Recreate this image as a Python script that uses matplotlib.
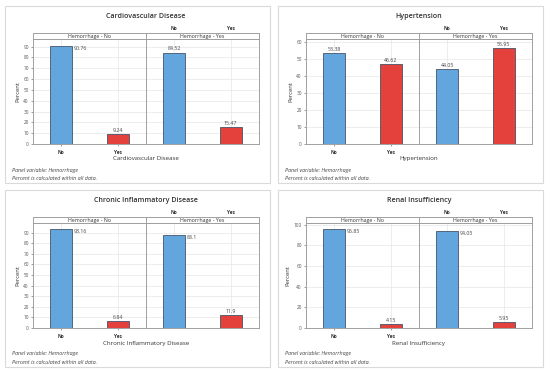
import matplotlib
matplotlib.use('Agg')
import matplotlib.pyplot as plt
from matplotlib.patches import Rectangle

plt.rcParams['font.family'] = ['Open Sans', 'DejaVu Sans']

titles = ['Cardiovascular Disease', 'Hypertension',
          'Chronic Inflammatory Disease', 'Renal Insufficiency']
categories = ['No', 'Yes']
facets = ['Hemorrhage - No', 'Hemorrhage - Yes']
# percent within each panel, for Hemorrhage = No and Hemorrhage = Yes
pct_hem_no = [[90.76, 9.24], [53.38, 46.62], [93.16, 6.84], [95.85, 4.15]]
pct_hem_yes = [[84.52, 15.47], [44.05, 55.95], [88.1, 11.9], [94.05, 5.95]]
y_top = [97, 61.5, 99, 101.5]
y_step = [10, 10, 10, 20]
value_labels_no = ['90.76', '9.24', '53.38', '46.62', '93.16', '6.84', '95.85', '4.15']
value_labels_yes = ['84.52', '15.47', '44.05', '55.95', '88.1', '11.9', '94.05', '5.95']
footnotes = ['Panel variable: Hemorrhage', 'Percent is calculated within all data.']

W, H = 550, 374
BLUE = '#62A6DD'
RED = '#E4403C'
EDGE = '#44546A'
GRID = '#E6E6E6'
FRAME = '#A0A0A0'

fig = plt.figure(figsize=(W / 100, H / 100), dpi=100)


def box(x, y, w, h):
    # pixel box (top-left origin) -> figure fraction rect
    return [x / W, 1 - (y + h) / H, w / W, h / H]


def fx(x):
    return x / W


def fy(y):
    return 1 - y / H


def draw_panel(x0, y0, idx):
    # outer panel frame
    fig.patches.append(Rectangle((fx(x0), fy(y0 + 177)), 265 / W, 177 / H,
                                 transform=fig.transFigure, fill=False,
                                 edgecolor='#DADADA', linewidth=0.8))
    fig.text(fx(x0 + 141), fy(y0 + 10), titles[idx], ha='center', va='center',
             fontsize=5.1, color='#333333', fontweight='semibold')

    values = [pct_hem_no[idx], pct_hem_yes[idx]]
    labels = [value_labels_no[2 * idx:2 * idx + 2], value_labels_yes[2 * idx:2 * idx + 2]]
    ymax = y_top[idx]
    ticks = list(range(0, int(ymax) + 1, y_step[idx]))
    for f in range(2):
        left = x0 + 28 + f * 113
        ax = fig.add_axes(box(left, y0 + 33, 113, 105))
        xs = [0, 1]
        bars = ax.bar(xs, values[f], width=0.39, color=[BLUE, RED],
                      edgecolor=EDGE, linewidth=0.6, zorder=3)
        ax.set_xlim(-0.5, 1.5)
        ax.set_ylim(0, ymax)
        ax.set_yticks(ticks)
        ax.grid(True, color=GRID, linewidth=0.5, zorder=0)
        ax.set_axisbelow(True)
        for s in ax.spines.values():
            s.set_color(FRAME)
            s.set_linewidth(0.7)
        for b, v, t in zip(bars, values[f], labels[f]):
            cx = b.get_x() + b.get_width() / 2
            if v > 85:
                # no room above: label goes beside the bar
                ax.text(b.get_x() + b.get_width() + 0.03, v, t,
                        ha='left', va='top', fontsize=3.8, color='#444444')
            else:
                ax.text(cx, v + ymax * 0.01, t, ha='center', va='bottom',
                        fontsize=3.8, color='#444444')
        ax.set_xticks(xs)
        ax.tick_params(axis='both', labelsize=3.4, length=1.5, width=0.4,
                       colors='#555555', pad=1.5)
        if f == 0:
            ax.set_xticklabels(categories, fontweight='bold', color='#333333')
            ax.tick_params(axis='x', pad=2.5)
            ax.set_ylabel('Percent', fontsize=4.2, color='#333333', labelpad=2)
        else:
            ax.tick_params(axis='x', bottom=False, top=True, labelbottom=False,
                           labeltop=True, length=0)
            ax.set_xticklabels(categories, fontweight='bold', color='#333333')
            ax.tick_params(axis='x', pad=5.5)
            ax.tick_params(axis='y', left=False, labelleft=False)

        # strip header
        sax = fig.add_axes(box(left, y0 + 27, 113, 6))
        sax.set_xticks([])
        sax.set_yticks([])
        sax.set_facecolor('white')
        for s in sax.spines.values():
            s.set_color(FRAME)
            s.set_linewidth(0.7)
        sax.text(0.5, 0.45, facets[f], transform=sax.transAxes, ha='center',
                 va='center', fontsize=3.8, color='#333333')

    fig.text(fx(x0 + 141), fy(y0 + 153), titles[idx], ha='center', va='center',
             fontsize=4.4, color='#333333')
    for k, note in enumerate(footnotes):
        fig.text(fx(x0 + 7), fy(y0 + 164 + 8 * k), note, ha='left', va='center',
                 fontsize=3.9, style='italic', color='#444444')


origins = [(5, 6), (278, 6), (5, 190), (278, 190)]
for i, (px, py) in enumerate(origins):
    draw_panel(px, py, i)

fig.savefig('out.png', dpi=100, facecolor='white')
